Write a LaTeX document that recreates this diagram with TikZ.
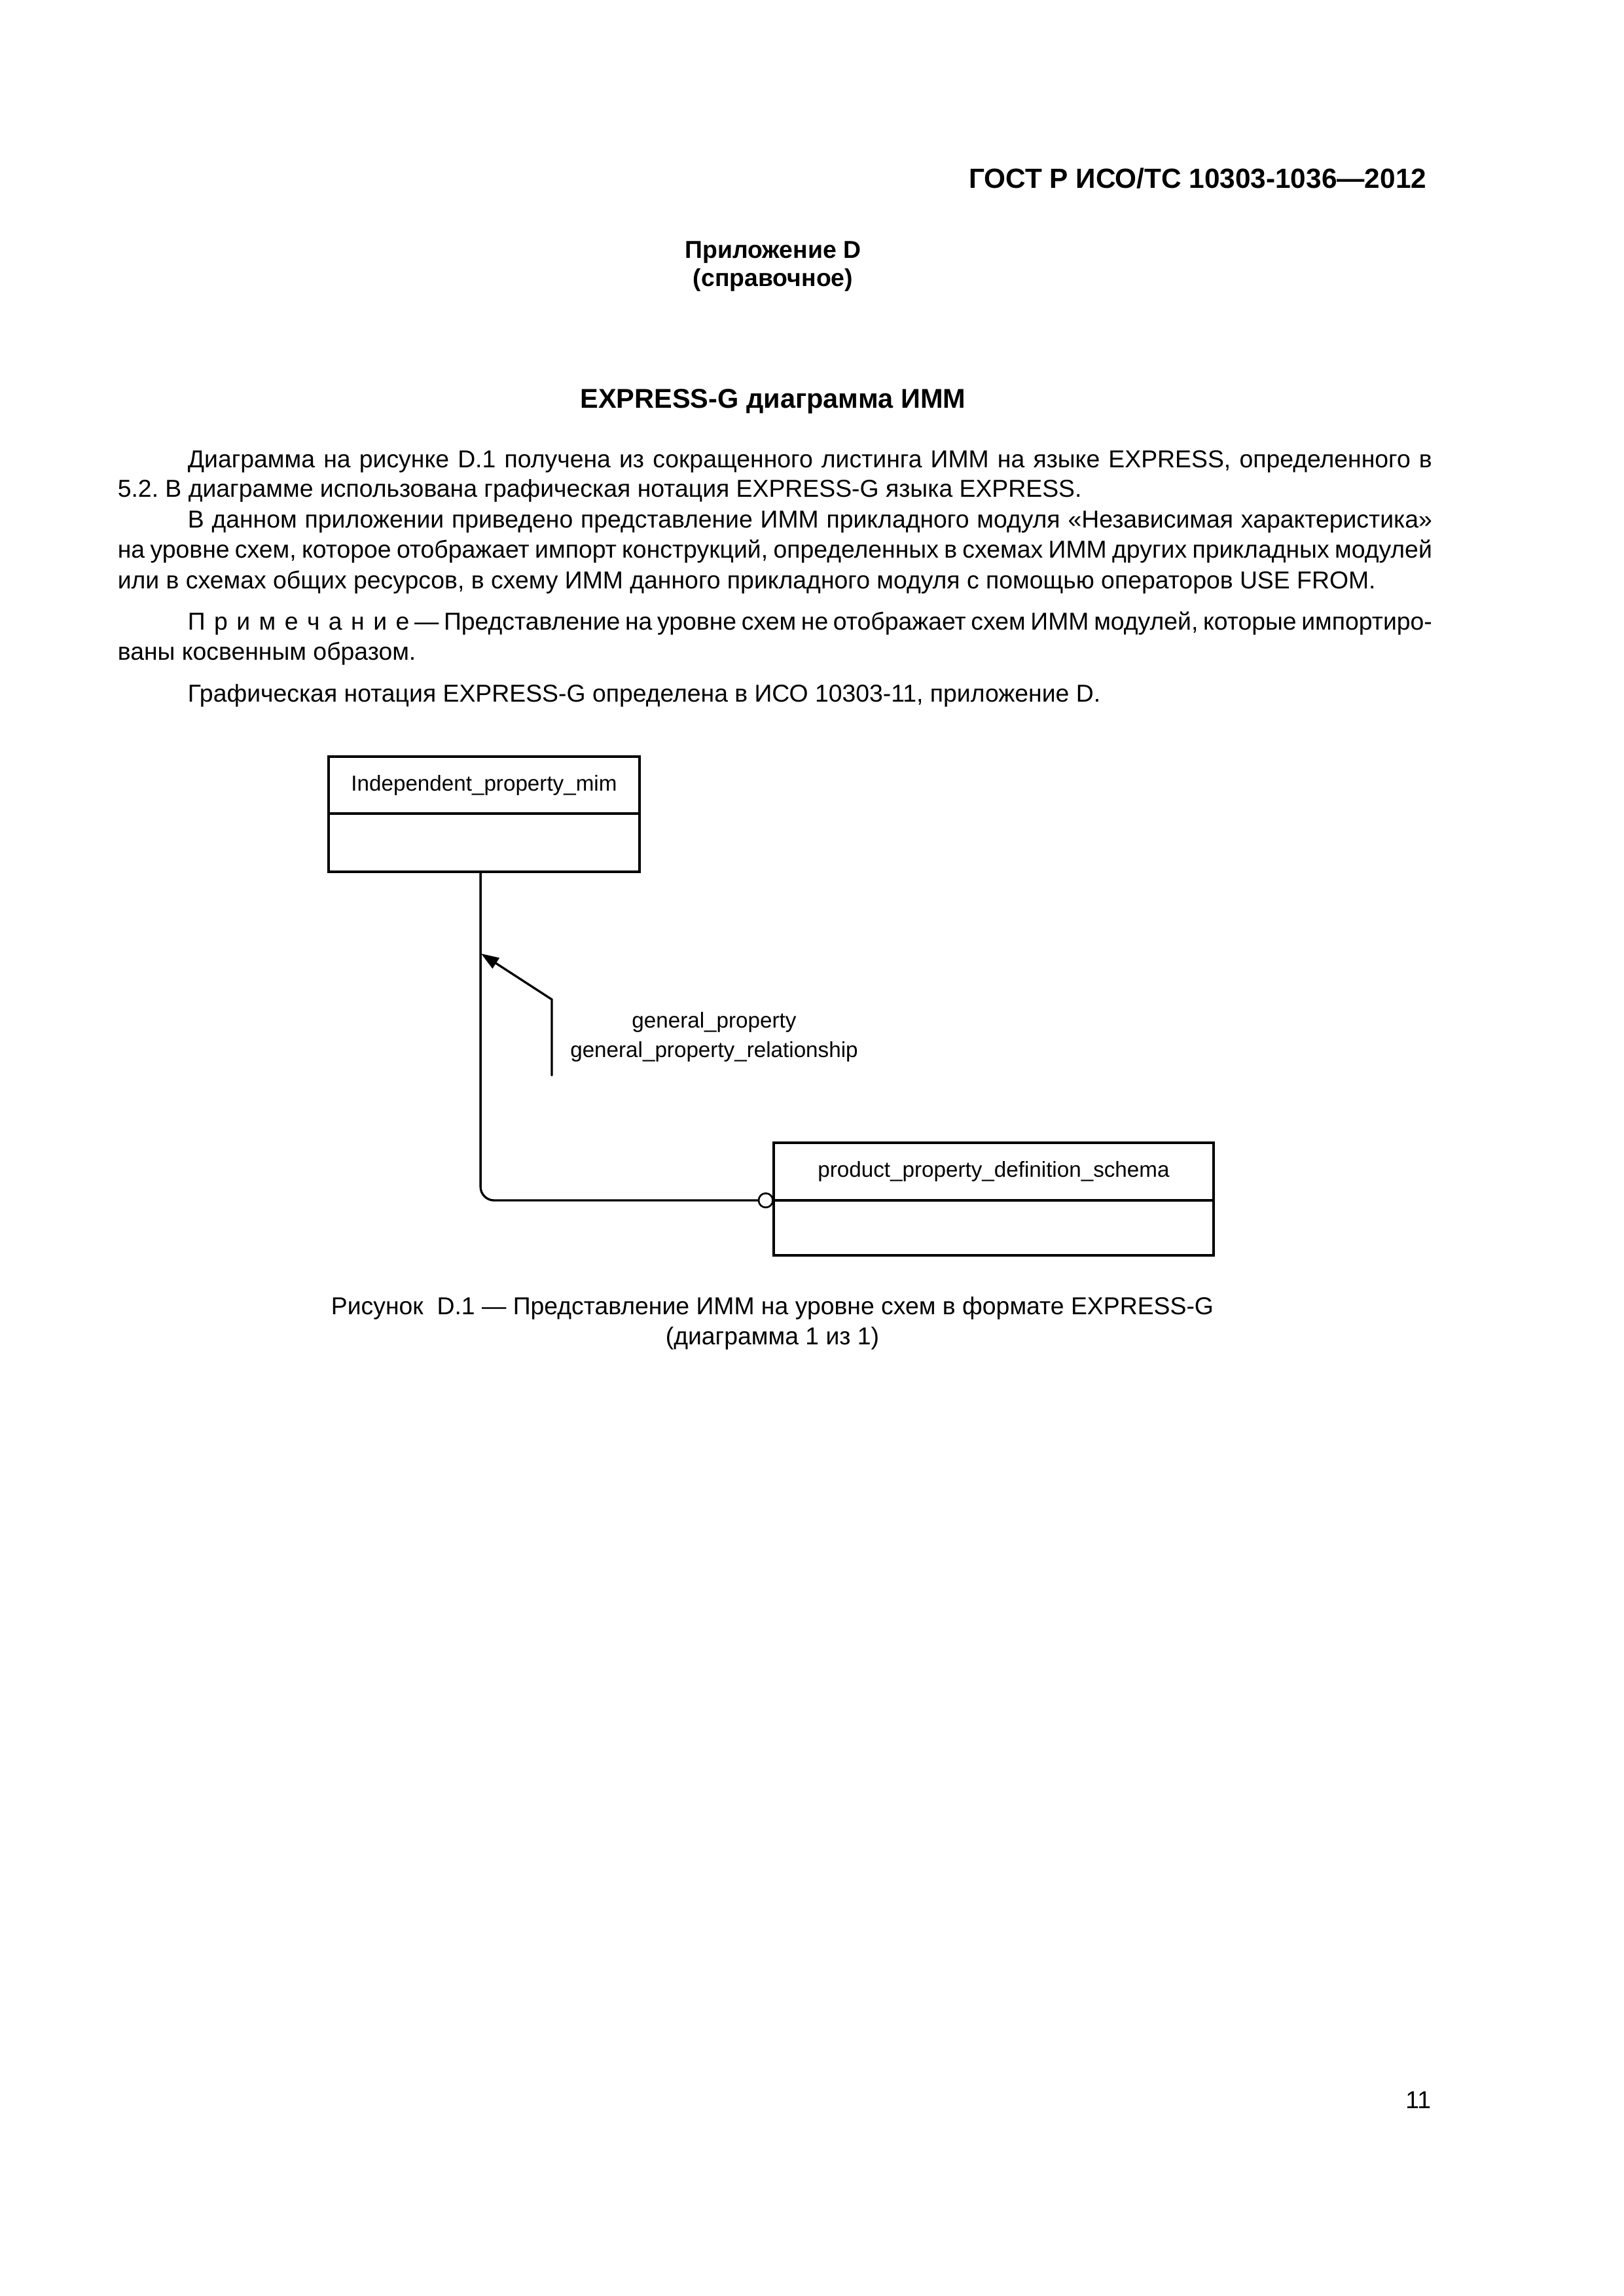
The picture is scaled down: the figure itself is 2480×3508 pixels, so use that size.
\documentclass[tikz,border=0pt]{standalone}
\usepackage{fontspec}
\setmainfont{Liberation Sans}
\usetikzlibrary{arrows.meta,positioning}
\frenchspacing

\newlength{\indw}\setlength{\indw}{456.24bp}
\newlength{\fullw}\setlength{\fullw}{481.92bp}
\newcommand{\jline}[2]{\makebox[#1][s]{#2}}
\newcommand{\spc}{\hspace{0.36em}}

\begin{document}
\begin{tikzpicture}[x=0.24bp,y=-0.24bp,>={Triangle[length=6.5bp,width=4.5bp]},line cap=round,
  txt/.style={inner sep=0pt,font=\fontsize{9}{11}\selectfont},
  bodyline/.style={txt,anchor=base west},
  head/.style={inner sep=0pt,anchor=base,font=\fontsize{#1}{12}\selectfont\bfseries},
  entbox/.style={draw,line width=0.85pt,inner sep=0pt,outer sep=0pt,font=\fontsize{8}{10}\selectfont},
  attr/.style={align=center,inner sep=0pt,font=\fontsize{8}{10.8}\selectfont}]
\fill[white] (0,0) rectangle (2480,3508);
\useasboundingbox (0,0) rectangle (2480,3508);

% page head
\node[head=10.2,anchor=base east] (gost) at (2180,287) {ГОСТ Р ИСО/ТС 10303-1036—2012};
\node[head=9] (app) at (1181,394) {Приложение D};
\node[head=9] (appk) at (1181,437) {(справочное)};
\node[head=10] (title) at (1181,623) {EXPRESS-G диаграмма ИММ};

% text
\node[bodyline] (l1) at (286,714) {\jline{\indw}{Диаграмма на рисунке D.1 получена из сокращенного листинга ИММ на языке EXPRESS, определенного в}};
\node[bodyline] (l2) at (179,759) {5.2. В диаграмме использована графическая нотация EXPRESS-G языка EXPRESS.};
\node[bodyline] (l3) at (286,806) {\jline{\indw}{В данном приложении приведено представление ИММ прикладного модуля «Независимая характеристика»}};
\node[bodyline] (l4) at (179,852) {\jline{\fullw}{на уровне схем, которое отображает импорт конструкций, определенных в схемах ИММ других прикладных модулей}};
\node[bodyline] (l5) at (179,899) {или в схемах общих ресурсов, в схему ИММ данного прикладного модуля с помощью операторов USE FROM.};
\node[bodyline] (l6) at (286,962) {\jline{\indw}{П\spc р\spc и\spc м\spc е\spc ч\spc а\spc н\spc и\spc е — Представление на уровне схем не отображает схем ИММ модулей, которые импортиро-}};
\node[bodyline] (l7) at (179,1008) {ваны косвенным образом.};
\node[bodyline] (l8) at (286,1072) {Графическая нотация EXPRESS-G определена в ИСО 10303-11, приложение D.};

% schema boxes
\node[entbox,minimum width=114bp,minimum height=20.88bp] (ipm) at (739.5,1199.5) {Independent\_property\_mim};
\node[entbox,minimum width=114bp,minimum height=21.36bp,below=0pt of ipm] (ipmb) {};
\node[entbox,minimum width=161.28bp,minimum height=21.12bp] (ppd) at (1518,1790) {product\_property\_definition\_schema};
\node[entbox,minimum width=161.28bp,minimum height=20.16bp,below=0pt of ppd] (ppdb) {};

% USE FROM link
\draw[line width=0.8pt,rounded corners=5bp] ([xshift=-1.3bp]ipmb.south) |- (ppd.south west);
\node[circle,draw,fill=white,line width=0.65pt,minimum size=5.2bp,inner sep=0pt,left=0pt of ppd.south west] (ring) {};

% imported items
\coordinate (gpfoot) at (843,1643);
\coordinate (gpbend) at (843,1527);
\coordinate (gptip) at (735,1457);
\draw[->,line width=0.8pt] (gpfoot) -- (gpbend) -- (gptip);
\node[attr] (gplbl) at (1091,1584) {general\_property\\general\_property\_relationship};

% caption
\node[txt,anchor=base] (cap1) at (1180,2008) {Рисунок\ \ D.1 — Представление ИММ на уровне схем в формате EXPRESS-G};
\node[txt,anchor=base] (cap2) at (1180,2054) {(диаграмма 1 из 1)};

\node[txt,anchor=base east] (pgno) at (2187,3221) {11};
\end{tikzpicture}
\end{document}
